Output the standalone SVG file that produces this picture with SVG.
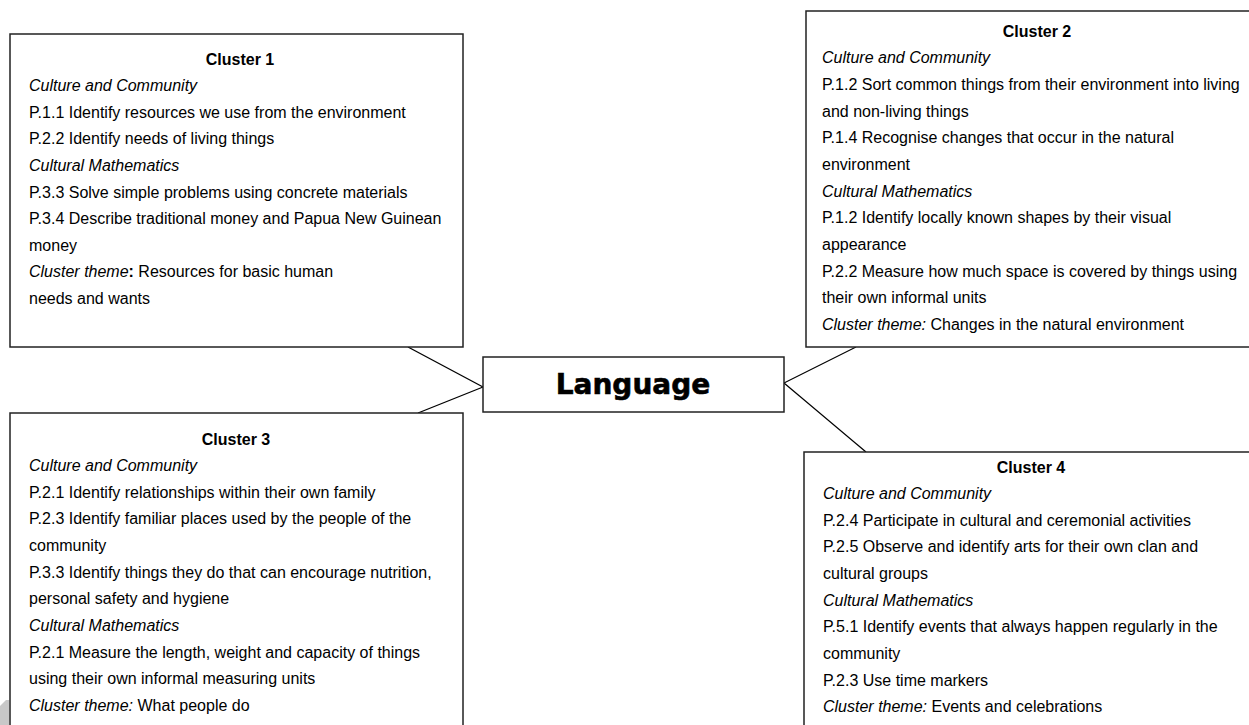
<svg xmlns="http://www.w3.org/2000/svg" width="1249" height="725" viewBox="0 0 1249 725">
<style>
.box{fill:#fff;stroke:#222;stroke-width:1.5}
.t{font-family:"Liberation Sans",Arial,sans-serif;font-size:16px;fill:#000}
.h{font-weight:bold;text-anchor:middle}
.i{font-style:italic}
.b{font-weight:bold}
.lang{font-family:"DejaVu Sans",sans-serif;font-weight:bold;font-size:28px;text-anchor:middle;fill:#000;stroke:#000;stroke-width:0.6}
.con{stroke:#000;stroke-width:1.2;fill:none}
</style>
<rect width="1249" height="725" fill="#fff"/>
<polygon points="0,706 6,700 9,700 9,725 0,725" fill="#c8c8c8"/>
<g id="connectors">
<line class="con" x1="408" y1="347" x2="483" y2="387"/>
<line class="con" x1="483" y1="387" x2="418" y2="413"/>
<line class="con" x1="784" y1="383" x2="856" y2="347"/>
<line class="con" x1="784" y1="383" x2="866" y2="452"/>
</g>
<g id="cluster1">
<rect class="box" x="10" y="34" width="453" height="313"/>
<text class="t h" x="240" y="65">Cluster 1</text>
<text class="t i" x="29" y="91">Culture and Community</text>
<text class="t" x="29" y="118">P.1.1 Identify resources we use from the environment</text>
<text class="t" x="29" y="144">P.2.2 Identify needs of living things</text>
<text class="t i" x="29" y="171">Cultural Mathematics</text>
<text class="t" x="29" y="198">P.3.3 Solve simple problems using concrete materials</text>
<text class="t" x="29" y="224">P.3.4 Describe traditional money and Papua New Guinean</text>
<text class="t" x="29" y="251">money</text>
<text class="t" x="29" y="277"><tspan class="i">Cluster theme</tspan><tspan class="b">:</tspan> Resources for basic human</text>
<text class="t" x="29" y="304">needs and wants</text>
</g>
<g id="cluster2">
<rect class="box" x="806" y="11" width="450" height="336"/>
<text class="t h" x="1037" y="37">Cluster 2</text>
<text class="t i" x="822" y="63">Culture and Community</text>
<text class="t" x="822" y="90">P.1.2 Sort common things from their environment into living</text>
<text class="t" x="822" y="117">and non-living things</text>
<text class="t" x="822" y="143">P.1.4 Recognise changes that occur in the natural</text>
<text class="t" x="822" y="170">environment</text>
<text class="t i" x="822" y="197">Cultural Mathematics</text>
<text class="t" x="822" y="223">P.1.2 Identify locally known shapes by their visual</text>
<text class="t" x="822" y="250">appearance</text>
<text class="t" x="822" y="277">P.2.2 Measure how much space is covered by things using</text>
<text class="t" x="822" y="303">their own informal units</text>
<text class="t" x="822" y="330"><tspan class="i">Cluster theme:</tspan> Changes in the natural environment</text>
</g>
<g id="language">
<rect class="box" x="483" y="357" width="301" height="55"/>
<text class="lang" x="633" y="394">Language</text>
</g>
<g id="cluster3">
<rect class="box" x="10" y="413" width="453" height="320"/>
<text class="t h" x="236" y="445">Cluster 3</text>
<text class="t i" x="29" y="471">Culture and Community</text>
<text class="t" x="29" y="498">P.2.1 Identify relationships within their own family</text>
<text class="t" x="29" y="524">P.2.3 Identify familiar places used by the people of the</text>
<text class="t" x="29" y="551">community</text>
<text class="t" x="29" y="578">P.3.3 Identify things they do that can encourage nutrition,</text>
<text class="t" x="29" y="604">personal safety and hygiene</text>
<text class="t i" x="29" y="631">Cultural Mathematics</text>
<text class="t" x="29" y="658">P.2.1 Measure the length, weight and capacity of things</text>
<text class="t" x="29" y="684">using their own informal measuring units</text>
<text class="t" x="29" y="711"><tspan class="i">Cluster theme:</tspan> What people do</text>
</g>
<g id="cluster4">
<rect class="box" x="804" y="452" width="452" height="290"/>
<text class="t h" x="1031" y="473">Cluster 4</text>
<text class="t i" x="823" y="499">Culture and Community</text>
<text class="t" x="823" y="526">P.2.4 Participate in cultural and ceremonial activities</text>
<text class="t" x="823" y="552">P.2.5 Observe and identify arts for their own clan and</text>
<text class="t" x="823" y="579">cultural groups</text>
<text class="t i" x="823" y="606">Cultural Mathematics</text>
<text class="t" x="823" y="632">P.5.1 Identify events that always happen regularly in the</text>
<text class="t" x="823" y="659">community</text>
<text class="t" x="823" y="686">P.2.3 Use time markers</text>
<text class="t" x="823" y="712"><tspan class="i">Cluster theme:</tspan> Events and celebrations</text>
</g>
</svg>
